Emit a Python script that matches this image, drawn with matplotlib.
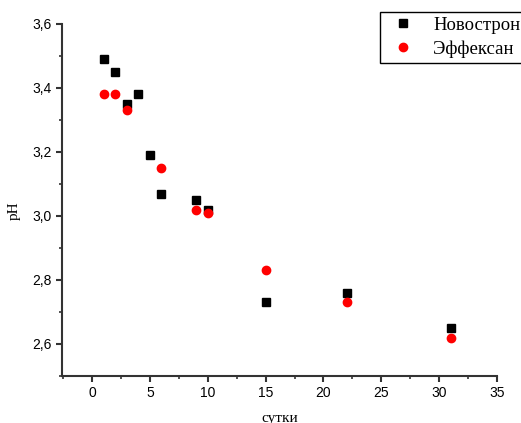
import matplotlib
matplotlib.use("Agg")
import matplotlib.pyplot as plt
from matplotlib.ticker import MultipleLocator, FuncFormatter

days_novostron = [1, 2, 3, 4, 5, 6, 9, 10, 15, 22, 31]
ph_novostron = [3.49, 3.45, 3.35, 3.38, 3.19, 3.07, 3.05, 3.02, 2.73, 2.76, 2.65]
days_effeksan = [1, 2, 3, 6, 9, 10, 15, 22, 31]
ph_effeksan = [3.38, 3.38, 3.33, 3.15, 3.02, 3.01, 2.83, 2.73, 2.62]
labels = ["Новострон", "Эффексан"]

fig = plt.figure(figsize=(5.21, 4.23), dpi=100)
ax = fig.add_axes([62/521, 47/423, (497-62)/521, (376-24)/423])

ax.plot(days_novostron, ph_novostron, ls="none", marker="s", ms=5.3, mew=1, color="black", label=labels[0])
ax.plot(days_effeksan, ph_effeksan, ls="none", marker="o", ms=6.0, mew=1, color="red", label=labels[1])

ax.set_xlim(-2.6, 35)
ax.set_ylim(2.5, 3.6)
ax.xaxis.set_major_locator(MultipleLocator(5))
ax.xaxis.set_minor_locator(MultipleLocator(2.5))
ax.yaxis.set_major_locator(MultipleLocator(0.2))
ax.yaxis.set_minor_locator(MultipleLocator(0.1))
ax.yaxis.set_major_formatter(FuncFormatter(lambda v, p: f"{v:.1f}".replace(".", ",")))

for s in ["top", "right"]:
    ax.spines[s].set_visible(False)
for s in ["left", "bottom"]:
    ax.spines[s].set_linewidth(1.5)
    ax.spines[s].set_color("#333333")
ax.tick_params(which="major", direction="out", length=4, width=1.5, color="#333333",
               labelsize=10, labelfontfamily="Liberation Sans")
ax.tick_params(which="minor", direction="out", length=2.5, width=1.2, color="#333333")

ax.set_ylabel("pH", family="Liberation Serif", fontsize=11, labelpad=8)
ax.yaxis.set_label_coords(-0.095, 0.47)
ax.set_xlabel("сутки", family="Liberation Serif", fontsize=11, labelpad=8)

leg = fig.legend(loc="upper left", bbox_to_anchor=(380/521, 1 - 12/423),
                 borderaxespad=0,
                 prop={"family": "Liberation Serif", "size": 13.5},
                 fancybox=False, edgecolor="black", framealpha=1,
                 handletextpad=0.6, borderpad=0.25, labelspacing=0.35,
                 handlelength=2.0)
leg.get_frame().set_linewidth(1.0)

fig.savefig("out.png", dpi=100)
